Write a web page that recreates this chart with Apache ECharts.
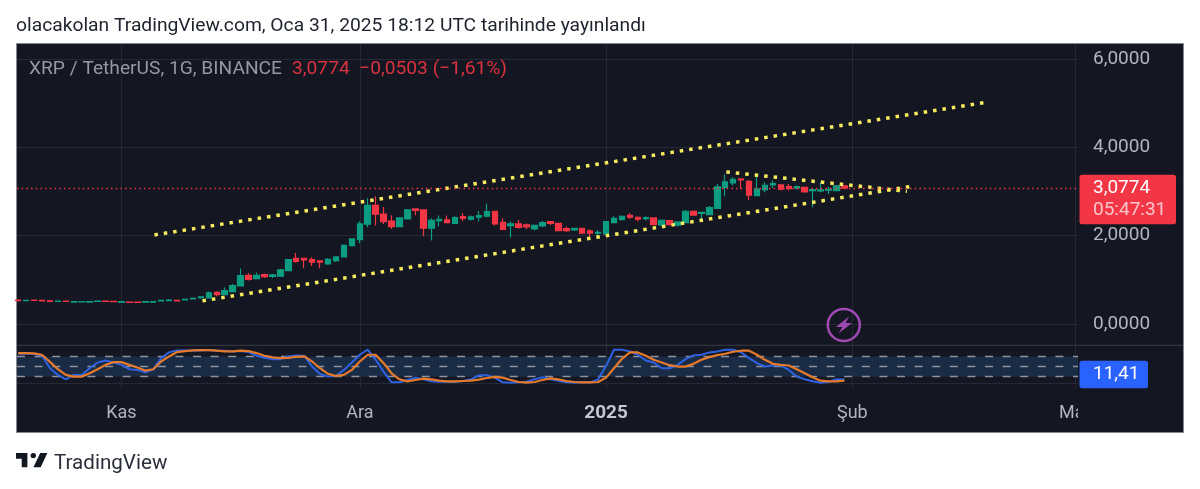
<!DOCTYPE html>
<html><head><meta charset="utf-8">
<style>html,body{margin:0;padding:0;background:#fff}#c{width:1200px;height:489px}</style>
<script src="https://cdn.jsdelivr.net/npm/echarts@6/dist/echarts.min.js"></script>
</head><body><div id="c"></div>
<script>
const opens = [.545,.530,.545,.537,.525,.512,.522,.498,.500,.498,.513,.522,.516,.497,.500,.498,.497,.497,.527,.532,.538,.547,.570,.592,
.592,.72,.667,.735,.864,1.105,1.03,1.12,1.08,1.082,1.21,1.49,1.49,1.46,1.43,1.36,1.437,1.52,1.776,1.91,2.26,2.688,2.49,2.33,
2.206,2.38,2.606,2.583,2.168,2.342,2.357,2.28,2.43,2.372,2.417,2.44,2.553,2.304,2.228,2.266,2.243,2.153,2.22,2.319,2.28,2.16,2.13,2.168,2.108,2.055,2.04,2.296,2.364,2.462,2.417,
2.387,2.402,2.244,2.342,2.236,2.296,2.553,2.507,2.477,2.62,3.095,3.194,3.284,3.231,2.907,3.035,3.149,3.149,3.11,3.08,3.095,3.02,3.013,3.028,3.02,3.1277];
const closes = [.533,.540,.535,.527,.515,.522,.512,.508,.507,.508,.522,.512,.506,.507,.490,.488,.507,.507,.537,.545,.527,.560,.585,.615,
.705,.667,.758,.871,1.097,1.014,1.105,1.075,1.112,1.225,1.46,1.42,1.45,1.40,1.40,1.467,1.52,1.783,1.927,2.266,2.688,2.485,2.32,2.206,
2.402,2.583,2.575,2.168,2.349,2.372,2.296,2.41,2.394,2.425,2.455,2.545,2.266,2.145,2.266,2.19,2.198,2.236,2.296,2.28,2.115,2.115,2.168,2.06,2.06,2.077,2.319,2.394,2.44,2.417,2.372,
2.41,2.25,2.349,2.25,2.311,2.553,2.462,2.53,2.636,3.103,3.216,3.277,3.262,2.915,3.058,3.141,3.179,3.051,3.066,3.11,2.99,3.043,3.036,3.05,3.1277,3.0774];
const lows = [.528,.525,.530,.522,.510,.508,.506,.493,.495,.493,.508,.506,.500,.492,.485,.483,.492,.492,.522,.526,.522,.542,.565,.588,
.592,.63,.667,.735,.85,.984,1.03,1.045,1.045,1.067,1.21,1.39,1.263,1.316,1.263,1.34,1.406,1.505,1.753,1.83,2.19,2.228,2.266,2.153,
2.19,2.372,2.46,1.987,1.889,2.206,2.296,2.266,2.327,2.342,2.327,2.417,2.228,2.13,1.957,2.16,2.145,2.115,2.19,2.244,2.108,2.085,2.108,2.04,1.964,1.987,2.04,2.289,2.356,2.379,2.319,
2.342,2.244,2.206,2.228,2.206,2.289,2.455,2.311,2.47,2.613,2.892,3.134,3.058,2.802,2.9,2.983,3.08,3.02,3.02,3.043,2.975,2.643,2.983,2.945,3.005,3.05];
const highs = [.552,.546,.550,.541,.530,.527,.527,.513,.512,.513,.527,.527,.521,.512,.505,.503,.512,.512,.547,.568,.545,.568,.600,.625,
.735,.743,.826,.909,1.256,1.15,1.165,1.143,1.135,1.248,1.474,1.61,1.497,1.51,1.437,1.497,1.535,1.80,1.942,2.327,2.854,2.892,2.65,2.46,
2.425,2.606,2.62,2.59,2.394,2.455,2.455,2.44,2.515,2.455,2.56,2.72,2.56,2.394,2.326,2.356,2.274,2.25,2.334,2.326,2.29,2.21,2.176,2.176,2.145,2.13,2.326,2.44,2.455,2.507,2.432,
2.44,2.417,2.364,2.356,2.326,2.583,2.568,2.538,2.673,3.171,3.382,3.322,3.292,3.262,3.367,3.209,3.247,3.164,3.171,3.134,3.11,3.058,3.209,3.11,3.134,3.14];
const kValues = [88,89,87,83,45,25,12,25,25,45,62,68,62,55,42,40,33,42,75,92,98,98,98,98,99,97,97,95,96,93,82,76,72,72,80,83,82,50,28,20,22,40,62,85,100,70,35,3,3,10,17,12,6,5,5,
5,7,12,24,24,17,3,2,3,5,12,18,12,8,3,2,3,3,12,52,100,100,95,85,68,62,45,45,55,72,83,85,92,95,100,100,92,75,60,50,53,53,40,20,12,6,2,4,12,11.41];
const dValues = [90,90,89,85,64,42,25,20,20,30,42,55,63,63,55,47,38,42,65,80,93,96,98,99,99,97,95,95,97,96,90,82,77,75,76,79,80,65,45,28,22,25,40,65,85,85,60,30,12,6,10,14,12,8,6,
6,7,8,11,16,19,17,10,4,2,4,10,15,12,7,4,3,3,4,17,45,73,92,92,82,70,62,54,50,50,58,70,78,84,88,94,97,97,85,70,58,55,53,42,30,18,8,6,6,8];
const upperDays = [17.15,121.55], upperValues = [2.018,5.01];
const lowerDays = [23.2,112.75], lowerValues = [.525,3.125];
const wedgeDays = [89.14,111.87], wedgeValues = [3.443,3.005];
const tickDays = [13,43,74,105,133];
const tickNames = ['Kas','Ara','2025','Şub','Mar'];
const priceTicks = [0,2,4,6];
const oscLevels = [80,50,20];
const lastPrice = 3.0774;
const lastOsc = 11.41;
const titleText = 'olacakolan TradingView.com, Oca 31, 2025 18:12 UTC tarihinde yayınlandı';
const symbolText = 'XRP / TetherUS, 1G, BINANCE';
const changeText = '3,0774  −0,0503 (−1,61%)';

const FONT = 'Roboto';
const BG = '#141722', GRID = '#252935';
const xMin = -0.145, xMax = 133.4;
const fmtNum = (v,n) => v.toFixed(n).replace('.', ',');
const pts = (ds,vs) => ds.map((d,i) => [d, vs[i]]);
const candle = opens.map((o,i) => [i, o, closes[i], lows[i], highs[i]]);
const trend = (ds,vs) => ({type:'line',xAxisIndex:0,yAxisIndex:0,data:pts(ds,vs),symbol:'none',z:4,silent:true,
  lineStyle:{color:'#f7ec5e',width:3.5,type:[3.5,6],cap:'butt'}});
const baseX = {type:'value',min:xMin,max:xMax,axisLine:{show:false},
  axisTick:{show:false,customValues:tickDays},
  splitLine:{show:true,lineStyle:{color:GRID,width:1}}};
const chart = echarts.init(document.getElementById('c'), null, {renderer:'canvas'});
const T = (x,y,text,size,fill,extra) => ({type:'text',x,y,z:110,silent:true,style:Object.assign({text,font:`${size}px ${FONT}`,fill,textVerticalAlign:'middle'},extra||{})});
chart.setOption({
  animation:false, backgroundColor:'#ffffff',
  grid:[{left:17,right:122,top:44,height:301},{left:17,right:122,top:345,height:43}],
  xAxis:[
    Object.assign({},baseX,{gridIndex:0,axisLabel:{show:false,customValues:tickDays}}),
    Object.assign({},baseX,{gridIndex:1,axisLabel:{show:true,customValues:tickDays,margin:16,hideOverlap:false,showMinLabel:true,showMaxLabel:true,
      color:'#b2b5be',fontFamily:FONT,fontSize:18,
      formatter:v=>{const n=tickNames[tickDays.indexOf(v)]||'';return n==='2025'?'{b|2025}':n;},
      rich:{b:{fontWeight:'bold',fontSize:19,color:'#c4c7ce',fontFamily:FONT}}}})
  ],
  yAxis:[
    {type:'value',gridIndex:0,position:'right',min:-0.473,max:6.337,
     axisLine:{show:false},axisTick:{show:false,customValues:priceTicks},
     axisLabel:{show:true,customValues:priceTicks,margin:15,color:'#b2b5be',fontFamily:FONT,fontSize:19,formatter:v=>fmtNum(v,4)},
     splitLine:{show:true,lineStyle:{color:GRID,width:1}}},
    {type:'value',gridIndex:1,position:'right',min:-13.8,max:114,
     axisLine:{show:false},axisTick:{show:false,customValues:[0]},axisLabel:{show:false,customValues:[0]},
     splitLine:{show:true,lineStyle:{color:GRID,width:1}}}
  ],
  series:[
    {type:'candlestick',xAxisIndex:0,yAxisIndex:0,data:candle,barWidth:6,z:3,silent:true,
     itemStyle:{color:'#0b9c82',color0:'#f23645',borderColor:'#0b9c82',borderColor0:'#f23645',borderWidth:1.2},
     encode:{x:0,y:[1,2,3,4]},
     markLine:{silent:true,symbol:'none',animation:false,label:{show:false},
       lineStyle:{color:'#f23645',type:[1.5,3.2],width:1.3},data:[{yAxis:lastPrice}]}},
    trend(upperDays,upperValues),trend(lowerDays,lowerValues),trend(wedgeDays,wedgeValues),
    {type:'line',name:'K',xAxisIndex:1,yAxisIndex:1,data:kValues.map((v,i)=>[i,v]),symbol:'none',z:5,silent:true,
     lineStyle:{color:'#2f62e0',width:2},
     markArea:{silent:true,itemStyle:{color:'#1a2b45'},data:[[{yAxis:oscLevels[2]},{yAxis:oscLevels[0]}]]},
     markLine:{silent:true,symbol:'none',animation:false,label:{show:false},
       lineStyle:{color:'#8e929c',type:[8,9.6],width:1.3},data:oscLevels.map(v=>({yAxis:v}))}},
    {type:'line',name:'D',xAxisIndex:1,yAxisIndex:1,data:dValues.map((v,i)=>[i,v]),symbol:'none',z:6,silent:true,
     lineStyle:{color:'#e57a2c',width:2.2}}
  ],
  graphic:{elements:[
    {type:'rect',z:-10,silent:true,shape:{x:16.5,y:43.5,width:1167,height:389},style:{fill:BG,stroke:'#85888f',lineWidth:1}},
    {type:'line',z:2,silent:true,shape:{x1:17,y1:345.3,x2:1183,y2:345.3},style:{stroke:'#383c46',lineWidth:1}},
    {type:'rect',z:100,silent:true,shape:{x:1078,y:392,width:105,height:40},style:{fill:BG}},
    T(16,26.5,titleText,19.25,'#1e222d'),
    T(29,69.5,symbolText,19.2,'#9598a1'),
    T(292,69.5,changeText,19.2,'#d8333f'),
    {type:'circle',z:8,silent:true,shape:{cx:843.8,cy:325,r:16},style:{fill:'rgba(0,0,0,0)',stroke:'#9f4ab3',lineWidth:2.5}},
    {type:'polygon',z:8,silent:true,shape:{points:[[849,316.5],[836,327],[842.5,327],[838.5,333.5],[852,323],[845.5,323]]},style:{fill:'#9f4ab3'}},
    {type:'rect',z:105,silent:true,shape:{x:1079.5,y:174.7,width:96.5,height:49.6,r:2.5},style:{fill:'#f23645'}},
    T(1093,188,fmtNum(lastPrice,4),19,'#ffffff'),
    T(1093,210.5,'05:47:31',19,'#fbc5ca'),
    {type:'rect',z:105,silent:true,shape:{x:1079.5,y:360.7,width:68.5,height:27.6,r:2.5},style:{fill:'#2962ff'}},
    T(1093,374.5,fmtNum(lastOsc,2),19,'#ffffff'),
    {type:'polygon',z:110,silent:true,shape:{points:[[27.4,453],[16,453],[16,458.7],[21.7,458.7],[21.7,467.25],[27.4,467.25]]},style:{fill:'#131722'}},
    {type:'polygon',z:110,silent:true,shape:{points:[[40.7,467.25],[33.4,467.25],[40.2,453],[47.35,453]]},style:{fill:'#131722'}},
    {type:'circle',z:110,silent:true,shape:{cx:33.3,cy:455.6,r:2.7},style:{fill:'#131722'}},
    T(54,463.5,'TradingView',20.6,'#2a2e39')
  ]}
});
</script></body></html>
